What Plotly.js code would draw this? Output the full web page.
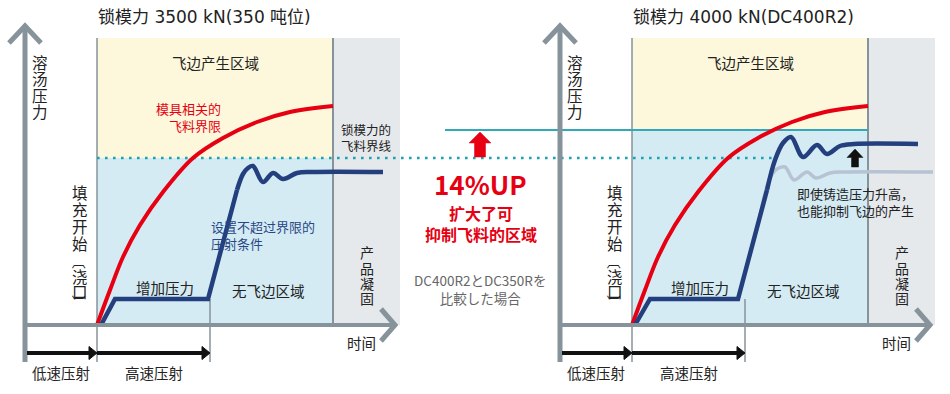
<!DOCTYPE html>
<html><head><meta charset="utf-8">
<script src="https://cdn.plot.ly/plotly-3.0.1.min.js"></script>
<style>html,body{margin:0;padding:0;background:#fff}#chart{width:950px;height:394px}</style>
</head><body><div id="chart"></div>
<script>
// ---------- data (schematic units: t = time from gate fill start, p = melt pressure) ----------
const panelTitles = ['锁模力 3500 kN(350 吨位)', '锁模力 4000 kN(DC400R2)'];
const phaseNames = ['低速压射', '高速压射'];
const regionNames = ['飞边产生区域', '无飞边区域', '增加压力', '时间'];
const yAxisName = ['溶', '汤', '压', '力'];
const gateName = ['填', '充', '开', '始', '〔', '浇', '口', '〕'];
const solidName = ['产', '品', '凝', '固'];
const phaseTimes = [-72, 0, 113, 236, 303];   // low-speed start, fill start, high-speed end, solidification, axis end
const regionTop = 287;
const clampLimit = [167, 195];                // 3500 kN limit, 4000 kN limit
const flashLimitT = [0, 13, 26, 43, 66, 96, 126, 160, 193, 236];
const flashLimitP = [0, 35, 68, 100, 133, 167, 187, 203, 213, 219];
const ramp350T = [4, 18, 111, 140];
const ramp350P = [0, 26, 26, 135];
const settle350T = [140, 146, 151, 156, 166, 176, 186, 200, 215, 286];
const settle350P = [135, 151, 157, 159, 143, 152, 146, 152, 153, 153];
const ramp400T = [3, 18, 106, 135];
const ramp400P = [0, 26, 26, 135];
const settle400T = [135, 143, 151, 159, 171, 185, 195, 208, 222, 286];
const settle400P = [135, 165, 182, 188, 168, 180, 171, 179, 181, 181];
const ghostT = [128, 138, 145, 153, 162, 175, 184, 198, 212, 301];
const ghostP = [109, 147, 156, 158, 145, 153, 147, 152, 153, 153];

// ---------- styles ----------
const FONT = 'Noto Sans CJK SC, sans-serif';
const TITLE_FONT = 'DejaVu Sans, Noto Sans CJK SC, sans-serif';
const RED = '#e60012', NAVY = '#233f7e', AXIS = '#86939b', TEXT = '#222';
const YELLOW = '#fdf8dc', BLUE = '#d4ebf4', GRAY = '#e6e9ec', TEAL = '#1ba3b5';
const W = 950, H = 394;

const traces = [];
function panelTraces(xa, rampT, rampP, setT, setP) {
  traces.push({x: flashLimitT, y: flashLimitP, xaxis: xa, yaxis: 'y', mode: 'lines',
    line: {color: RED, width: 4, shape: 'spline', smoothing: 1}, hoverinfo: 'skip'});
  traces.push({x: rampT, y: rampP, xaxis: xa, yaxis: 'y', mode: 'lines',
    line: {color: NAVY, width: 4.5}, hoverinfo: 'skip'});
  traces.push({x: setT, y: setP, xaxis: xa, yaxis: 'y', mode: 'lines',
    line: {color: NAVY, width: 4.5, shape: 'spline', smoothing: 1}, hoverinfo: 'skip'});
}
panelTraces('x', ramp350T, ramp350P, settle350T, settle350P);
traces.push({x: ghostT, y: ghostP, xaxis: 'x2', yaxis: 'y', mode: 'lines',
  line: {color: '#b7c2d2', width: 3.5, shape: 'spline', smoothing: 1}, hoverinfo: 'skip'});
panelTraces('x2', ramp400T, ramp400P, settle400T, settle400P);

const shapes = [];
function rect(xr, x0, x1, y0, y1, c) {
  shapes.push({type: 'rect', xref: xr, yref: 'y', x0, x1, y0, y1, fillcolor: c, line: {width: 0}, layer: 'below'});
}
function seg(xr, x0, y0, x1, y1, color, width, layer, dash) {
  shapes.push({type: 'line', xref: xr, yref: 'y', x0, y0, x1, y1, layer: layer || 'below',
    line: {color, width, dash: dash || 'solid'}});
}
function path(xr, d, color, width, fill, layer) {
  shapes.push({type: 'path', xref: xr, yref: 'y', path: d, layer: layer || 'above',
    line: {color, width: width}, fillcolor: fill || 'rgba(0,0,0,0)'});
}
[0, 1].forEach(k => {
  const xr = k ? 'x2' : 'x';
  const [tLow, tFill, tHigh, tSolid, tEnd] = phaseTimes;
  rect(xr, tFill, tSolid, 0, regionTop, YELLOW);
  rect(xr, tFill, tSolid, 0, clampLimit[k], BLUE);
  rect(xr, tSolid, tEnd, 0, regionTop, GRAY);
  seg(xr, tFill, -37, tFill, regionTop, AXIS, 1.5);
  seg(xr, tHigh, -37, tHigh, 26, AXIS, 1.5);
  seg(xr, tSolid, 0, tSolid, regionTop, AXIS, 2);
});
// clamp-force lines
seg('x', 0, clampLimit[0], 676, clampLimit[0], TEAL, 2.6, 'below', '2.6px,5.4px');
seg('x2', -187, clampLimit[1], phaseTimes[3], clampLimit[1], '#33a8b8', 2);
[0, 1].forEach(k => {
  const xr = k ? 'x2' : 'x';
  const t0 = phaseTimes[0];
  // axes
  seg(xr, t0, -37, t0, 297, AXIS, 5, 'above');
  path(xr, `M ${t0 - 16} 282 L ${t0} 299 L ${t0 + 16} 282`, AXIS, 5);
  seg(xr, t0, 0, 297, 0, AXIS, 4, 'above');
  path(xr, `M 284 16 L 298 0 L 284 -16`, AXIS, 5);
  // phase arrows
  seg(xr, t0 + 2, -28, -6, -28, '#111', 4, 'above');
  path(xr, `M -8 -21.5 L 0 -28 L -8 -34.5 Z`, '#111', 1, '#111');
  seg(xr, 0, -28, phaseTimes[2] - 6, -28, '#111', 4, 'above');
  path(xr, `M ${phaseTimes[2] - 8} -21.5 L ${phaseTimes[2]} -28 L ${phaseTimes[2] - 8} -34.5 Z`, '#111', 1, '#111');
});
// red 14% up arrow (left-panel units) and black arrow (right-panel units)
path('x', 'M 377.5 168 L 388.5 168 L 388.5 182 L 394 182 L 383 193 L 372 182 L 377.5 182 Z', RED, 0.5, RED);
path('x2', 'M 219.5 158 L 226.5 158 L 226.5 167.5 L 231 167.5 L 223 176 L 215 167.5 L 219.5 167.5 Z', '#111', 0.5, '#111');

const ann = [];
function txt(text, px, py, o) {
  o = o || {};
  ann.push({xref: 'paper', yref: 'paper', x: px / W, y: 1 - py / H, text, showarrow: false,
    xanchor: o.xa || 'center', yanchor: 'middle', align: o.align || 'center', textangle: o.rot || 0,
    font: {family: o.family || FONT, size: o.size || 14, color: o.color || TEXT}});
}
[0, 1].forEach(k => {
  const dx = k * 535;
  txt(panelTitles[k], 96 + dx, 17, {xa: 'left', size: 17, family: TITLE_FONT});
  yAxisName.forEach((c, i) => txt(c, 40 + dx, [62, 78.5, 95, 111.5][i], {size: 15.5}));
  gateName.forEach((c, i) => txt(c, 80 + dx, [192, 209, 226, 243, 262, 276, 291, 302][i],
    {size: (c === '〔' || c === '〕') ? 14 : 15.5, rot: (c === '〔' || c === '〕') ? 90 : 0}));
  solidName.forEach((c, i) => txt(c, 367 + dx, [252, 267.5, 283, 297.5][i], {size: 14}));
  txt(regionNames[0], 215 + dx, 62, {size: 14.5});
  txt(regionNames[2], 165 + dx, 287, {size: 14.5});
  txt(regionNames[1], 268 + dx, 290, {size: 14.5});
  txt(regionNames[3], 361 + dx, 342, {size: 14.5});
  txt(phaseNames[0], 61 + dx, 372, {size: 14.5});
  txt(phaseNames[1], 154 + dx, 372, {size: 14.5});
});
txt('模具相关的<br>飞料界限', 223, 117, {xa: 'right', align: 'right', size: 13, color: RED});
txt('锁模力的<br>飞料界线', 339, 137, {xa: 'left', align: 'left', size: 12.5});
txt('设置不超过界限的<br>压射条件', 209, 234.5, {xa: 'left', align: 'left', size: 13, color: '#2a4785'});
txt('<b>14%UP</b>', 481, 183, {size: 26, color: RED});
txt('<b>扩大了可<br>抑制飞料的区域</b>', 481, 223, {size: 16, color: RED});
txt('DC400R2とDC350Rを<br>比較した場合', 480, 289, {size: 13.5, color: '#666', family: 'Noto Sans CJK JP, sans-serif'});
txt('即使铸造压力升高，<br>也能抑制飞边的产生', 795, 202, {xa: 'left', align: 'left', size: 13});

const hidden = {visible: false, fixedrange: true};
const layout = {
  width: W, height: H, margin: {l: 0, r: 0, t: 0, b: 0},
  paper_bgcolor: '#fff', plot_bgcolor: 'rgba(0,0,0,0)', showlegend: false,
  xaxis: Object.assign({range: [-97, 853], domain: [0, 1]}, hidden),
  xaxis2: Object.assign({range: [-632, 318], domain: [0, 1], overlaying: 'x', anchor: 'y'}, hidden),
  yaxis: Object.assign({range: [-69, 325], domain: [0, 1]}, hidden),
  shapes, annotations: ann
};
Plotly.newPlot('chart', traces, layout, {staticPlot: true, displayModeBar: false});
</script></body></html>
